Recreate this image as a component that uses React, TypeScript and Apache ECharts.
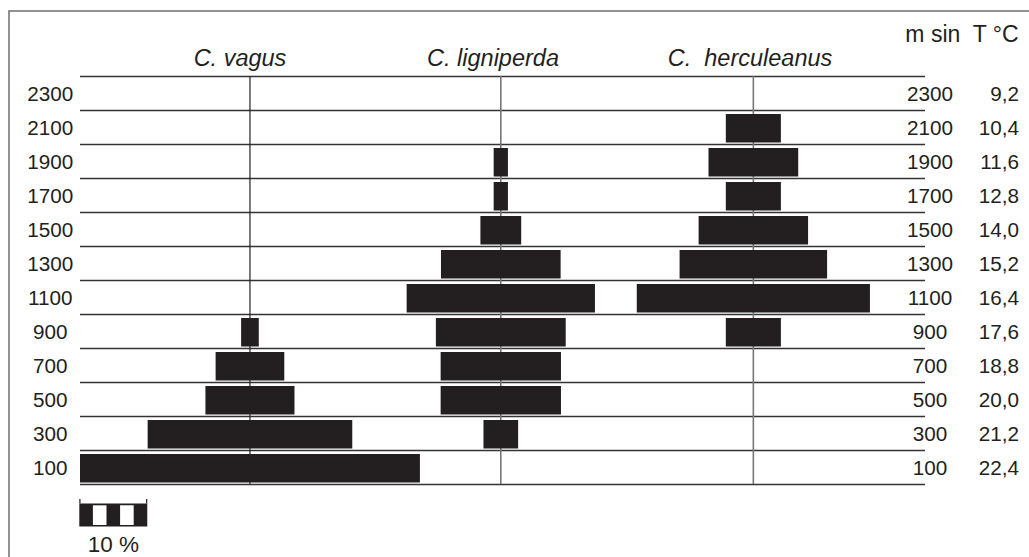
import React, { useEffect, useRef } from "react";
import * as echarts from "echarts";

// ---- data ----
const altitudes = ["100", "300", "500", "700", "900", "1100", "1300", "1500", "1700", "1900", "2100", "2300"];
const temperatures = ["22,4", "21,2", "20,0", "18,8", "17,6", "16,4", "15,2", "14,0", "12,8", "11,6", "10,4", "9,2"];
const speciesNames = ["C. vagus", "C. ligniperda", "C.  herculeanus"];
const speciesCenters = [25, 61.9, 99.05];
// share (%) per altitude band, bottom (100 m) to top (2300 m)
const vagus = [50, 30.1, 13.1, 10.1, 2.6, 0, 0, 0, 0, 0, 0, 0];
const ligniperda = [0, 5.1, 17.7, 17.7, 19.1, 27.7, 17.6, 6.0, 2.1, 2.1, 0, 0];
const herculeanus = [0, 0, 0, 0, 8.1, 34.3, 21.7, 16.1, 8.1, 13.2, 8.1, 0];
const scaleBarPercent = 10;
const scaleBarLabel = "10 %";
const headerText = "m sin  T °C";

const FONT = "'Liberation Sans', Arial, Helvetica, sans-serif";
const INK = "#231f20";

export default function App() {
  const ref = useRef<HTMLDivElement>(null);

  useEffect(() => {
    if (!ref.current) return;
    const chart = echarts.init(ref.current, undefined, { renderer: "svg" });

    const seriesValues = [vagus, ligniperda, herculeanus];
    const barData: number[][] = [];
    seriesValues.forEach((vals, s) => {
      vals.forEach((v, i) => {
        if (v > 0) barData.push([speciesCenters[s], v, i, s]);
      });
    });
    const centerData = speciesCenters.map((c, s) => [c, 0, s]);

    const option: any = {
      animation: false,
      backgroundColor: "#ffffff",
      grid: { left: 80, right: 104, top: 76, height: 408, containLabel: false },
      xAxis: { type: "value", min: 0, max: 124.3, show: false },
      yAxis: [
        {
          type: "category",
          position: "left",
          data: altitudes,
          axisLine: { show: false },
          axisTick: { show: false },
          axisLabel: { margin: 29.7, align: "center", color: INK, fontSize: 20.7, fontFamily: FONT, padding: [3, 0, 0, 0] },
          splitLine: { show: true, lineStyle: { color: "#333333", width: 1.3 } },
        },
        {
          type: "category",
          position: "right",
          data: altitudes,
          axisLine: { show: false },
          axisTick: { show: false },
          axisLabel: { margin: 5, align: "center", color: INK, fontSize: 20.7, fontFamily: FONT, padding: [3, 0, 0, 0] },
          splitLine: { show: false },
        },
        {
          type: "category",
          position: "right",
          data: temperatures,
          axisLine: { show: false },
          axisTick: { show: false },
          axisLabel: { margin: 94, align: "right", color: INK, fontSize: 20.7, fontFamily: FONT, padding: [3, 0, 0, 0] },
          splitLine: { show: false },
        },
      ],
      graphic: [
        {
          type: "rect",
          silent: true,
          shape: { x: 9, y: 11, width: 1040, height: 570 },
          style: { fill: "none", stroke: "#6e6e6e", lineWidth: 1.5 },
        },
        ...speciesNames.map((name, i) => ({
          type: "text",
          silent: true,
          x: [240, 493, 750][i],
          y: 58,
          style: {
            text: name,
            fill: INK,
            font: `italic 23.5px ${FONT}`,
            textAlign: "center",
            textVerticalAlign: "middle",
          },
        })),
        {
          type: "text",
          silent: true,
          x: 1018.5,
          y: 33.5,
          style: { text: headerText, fill: INK, font: `23px ${FONT}`, textAlign: "right", textVerticalAlign: "middle" },
        },
      ],
      series: [
        {
          type: "custom",
          name: "centers",
          data: centerData,
          encode: { x: 0, y: 1 },
          z: 1,
          renderItem: (params: any, api: any) => {
            const x = api.coord([api.value(0), 0])[0];
            const cs = params.coordSys;
            const s = api.value(2);
            return {
              type: "line",
              shape: { x1: x, y1: cs.y, x2: x, y2: cs.y + cs.height },
              style: { stroke: s === 0 ? "#222222" : "#777777", lineWidth: s === 0 ? 1.2 : 1.6 },
            };
          },
        },
        {
          type: "custom",
          name: "bars",
          data: barData,
          encode: { x: 0, y: 2 },
          z: 2,
          renderItem: (params: any, api: any) => {
            const c = api.value(0);
            const w = api.value(1);
            const r = api.value(2);
            const p0 = api.coord([c - w / 2, r]);
            const p1 = api.coord([c + w / 2, r]);
            const band = api.size([0, 1])[1];
            return {
              type: "rect",
              shape: { x: p0[0], y: p0[1] - band / 2 + 4, width: p1[0] - p0[0], height: band - 5.5 },
              style: { fill: INK },
            };
          },
        },
        {
          type: "custom",
          name: "scale",
          data: [[scaleBarPercent, 0]],
          encode: { x: 0, y: 1 },
          clip: false,
          z: 3,
          renderItem: (params: any, api: any) => {
            const x0 = api.coord([0, 0])[0] - 0.7;
            const x1 = api.coord([api.value(0), 0])[0] - 0.7;
            const cs = params.coordSys;
            const top = cs.y + cs.height + 19.5;
            const h = 23;
            const seg = (x1 - x0) / 5;
            return {
              type: "group",
              children: [
                { type: "rect", shape: { x: x0, y: top, width: x1 - x0, height: h }, style: { fill: INK } },
                { type: "rect", shape: { x: x0 + seg, y: top + 1.8, width: seg, height: h - 3.3 }, style: { fill: "#ffffff" } },
                { type: "rect", shape: { x: x0 + seg * 3, y: top + 1.8, width: seg, height: h - 3.3 }, style: { fill: "#ffffff" } },
                { type: "line", shape: { x1: x0 + 0.6, y1: top - 4.5, x2: x0 + 0.6, y2: top }, style: { stroke: INK, lineWidth: 1.2 } },
                { type: "line", shape: { x1: x1 - 0.6, y1: top - 4.5, x2: x1 - 0.6, y2: top }, style: { stroke: INK, lineWidth: 1.2 } },
                {
                  type: "text",
                  x: (x0 + x1) / 2,
                  y: top + 41,
                  style: { text: scaleBarLabel, fill: INK, font: `22.5px ${FONT}`, textAlign: "center", textVerticalAlign: "middle" },
                },
              ],
            };
          },
        },
      ],
    };

    chart.setOption(option);
    return () => chart.dispose();
  }, []);

  return (
    <div
      ref={ref}
      style={{ position: "fixed", left: 0, top: 0, width: 1029, height: 557, background: "#fff" }}
    />
  );
}
